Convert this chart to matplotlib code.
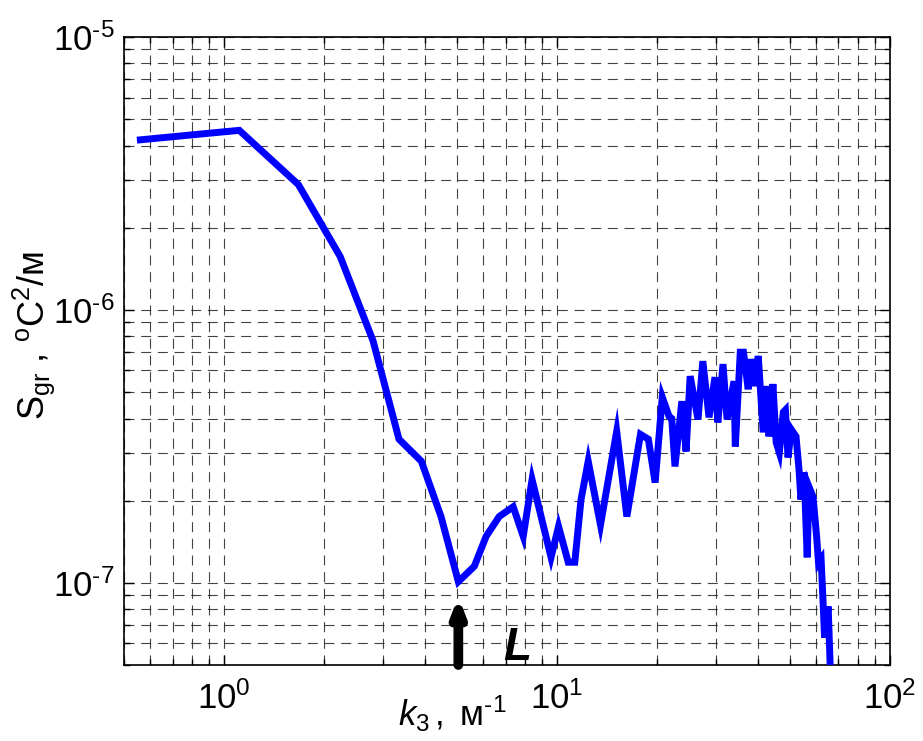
import matplotlib
matplotlib.use("Agg")
import matplotlib.pyplot as plt
from matplotlib.ticker import LogLocator, FuncFormatter, NullFormatter
import numpy as np

FONT = "Liberation Sans"
plt.rcParams['font.family'] = [FONT, 'DejaVu Sans']
plt.rcParams['mathtext.fontset'] = 'custom'
plt.rcParams['mathtext.rm'] = FONT
plt.rcParams['mathtext.it'] = FONT + ':italic'
plt.rcParams['mathtext.bf'] = FONT + ':bold'

k3 = [0.56, 1.11, 1.67, 2.23, 2.80, 3.35, 3.91, 4.48, 5.05, 5.64, 6.12, 6.70,
      7.38, 7.91, 8.41, 9.59, 10.1, 10.8, 11.3, 11.8, 12.4, 13.5, 15.1, 16.2,
      17.8, 18.8, 19.7, 20.7, 21.7, 22.1, 22.6, 23.7, 24.4, 25.1, 26.5, 27.4,
      28.6, 29.8, 30.4, 31.5, 32.4, 34.0, 34.3, 35.5, 36.3, 37.5, 38.3, 39.4,
      40.2, 41.6, 42.8, 43.3, 44.5, 45.5, 46.5, 47.8, 48.5, 49.4, 50.5, 52.2,
      53.3, 54.0, 55.2, 56.4, 57.1, 58.7, 60.2, 61.0, 62.1, 63.0, 63.6, 65.2, 66.3]
S_gr = [4.2e-6, 4.55e-6, 2.88e-6, 1.57e-6, 7.7e-7, 3.36e-7, 2.79e-7, 1.75e-7,
        1.01e-7, 1.15e-7, 1.48e-7, 1.75e-7, 1.90e-7, 1.48e-7, 2.39e-7, 1.24e-7,
        1.61e-7, 1.19e-7, 1.19e-7, 2.02e-7, 2.79e-7, 1.63e-7, 3.59e-7, 1.75e-7,
        3.5e-7, 3.36e-7, 2.33e-7, 4.79e-7, 4.07e-7, 4.0e-7, 2.67e-7, 4.63e-7,
        3.03e-7, 5.72e-7, 3.97e-7, 6.49e-7, 4.04e-7, 5.67e-7, 3.87e-7, 6.33e-7,
        3.97e-7, 5.48e-7, 3.16e-7, 7.0e-7, 7.0e-7, 5.12e-7, 6.6e-7, 5.26e-7,
        6.78e-7, 3.56e-7, 5.26e-7, 3.44e-7, 5.35e-7, 3.27e-7, 3.0e-7, 4.22e-7,
        4.3e-7, 2.88e-7, 3.65e-7, 3.44e-7, 2.6e-7, 2.02e-7, 2.54e-7, 1.24e-7,
        2.25e-7, 2.07e-7, 1.48e-7, 1.18e-7, 1.22e-7, 8.3e-8, 6.3e-8, 8.2e-8, 4.5e-8]

fig = plt.figure(figsize=(9.23, 7.41), dpi=100)
ax = fig.add_axes([124/923, 1-665/741, (890-124)/923, (665-37)/741])
ax.set_xscale('log')
ax.set_yscale('log')
ax.plot(k3, S_gr, color=(0, 0, 1), lw=5, solid_joinstyle='miter', zorder=3)
ax.set_xlim(0.5, 100)
ax.set_ylim(5e-8, 1e-5)

ax.xaxis.set_major_locator(LogLocator(base=10, numticks=10))
ax.yaxis.set_major_locator(LogLocator(base=10, numticks=10))
ax.xaxis.set_minor_locator(LogLocator(base=10, subs=np.arange(2, 10), numticks=20))
ax.yaxis.set_minor_locator(LogLocator(base=10, subs=np.arange(2, 10), numticks=20))

def fmt_func(v, p):
    e = int(round(np.log10(v)))
    if e < 0:
        return r'$\mathregular{10^{\text{-}%d}}$' % (-e)
    return r'$\mathregular{10^{%d}}$' % e

fmt = FuncFormatter(fmt_func)
ax.xaxis.set_major_formatter(fmt)
ax.yaxis.set_major_formatter(fmt)
ax.xaxis.set_minor_formatter(NullFormatter())
ax.yaxis.set_minor_formatter(NullFormatter())

ax.tick_params(which='both', direction='in', top=True, right=True, width=1, colors='black')
ax.tick_params(which='major', length=7, labelsize=25)
ax.tick_params(which='minor', length=4)
ax.tick_params(axis='x', pad=12)
ax.tick_params(axis='y', pad=7)
ax.grid(True, which='both', linestyle=(0, (9, 6)), color='#222222', lw=0.8, alpha=0.85)
for s in ax.spines.values():
    s.set_linewidth(1.2)

fig.text(452/923, 1-714/741, r'$\mathit{k}_{\mathit{3}}\mathregular{\,,\ м^{\text{-}1}}$', ha='center', va='center', fontsize=25)
fig.text(34/923, 1-335/741, r'$\mathregular{S_{gr}}$ , $\mathregular{^{o}C^{2}/м}$', ha='center', va='center', fontsize=26, rotation=90)

ax.annotate('', xy=(5.05, 8.9e-8), xytext=(5.05, 5.0e-8),
            arrowprops=dict(arrowstyle='-|>,head_width=0.35,head_length=0.9', color='black', lw=7, shrinkA=0, shrinkB=0),
            annotation_clip=False)
ax.text(7.6, 5.21e-8, 'L', fontsize=33, fontweight='bold', fontstyle='italic', ha='center', va='baseline')

fig.savefig('out.png', dpi=100)
